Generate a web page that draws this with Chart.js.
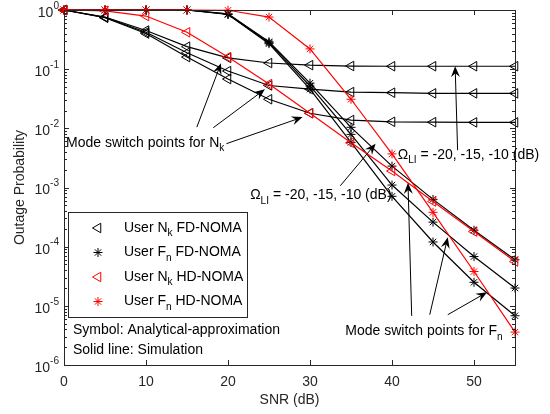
<!DOCTYPE html>
<html>
<head>
<meta charset="utf-8">
<script src="https://cdn.jsdelivr.net/npm/chart.js@4.4.1/dist/chart.umd.min.js"></script>
<style>
  html, body { margin: 0; padding: 0; background: #fff; }
  canvas { display: block; }
</style>
</head>
<body>
<canvas id="chart" width="550" height="414"></canvas>
<script>
// SNR axis (dB)
const snr = [0, 5, 10, 15, 20, 25, 30, 35, 40, 45, 50, 55];

// User N_k, FD-NOMA, Omega_LI = -20, -15, -10 dB
const nkFd20 = [1.0, 0.74, 0.40, 0.16, 0.068, 0.031, 0.018, 0.0138, 0.0129, 0.0127, 0.0126, 0.0126];
const nkFd15 = [1.0, 0.75, 0.42, 0.19, 0.093, 0.053, 0.046, 0.041, 0.040, 0.039, 0.039, 0.039];
const nkFd10 = [1.0, 0.76, 0.45, 0.24, 0.155, 0.127, 0.117, 0.113, 0.112, 0.112, 0.112, 0.112];

// User F_n, FD-NOMA, Omega_LI = -20, -15, -10 dB
const fnFd20 = [1.0, 1.0, 1.0, 1.0, 0.84, 0.27, 0.046, 0.0058, 7.1e-4, 1.2e-4, 2.5e-5, 6.8e-6];
const fnFd15 = [1.0, 1.0, 1.0, 1.0, 0.85, 0.28, 0.052, 0.0079, 1.1e-3, 2.6e-4, 6.8e-5, 2.0e-5];
const fnFd10 = [1.0, 1.0, 1.0, 1.0, 0.86, 0.29, 0.058, 0.0104, 2.3e-3, 6.3e-4, 1.9e-4, 6.0e-5];

// HD-NOMA
const nkHd = [1.0, 0.97, 0.79, 0.42, 0.16, 0.056, 0.018, 0.0057, 0.0019, 5.8e-4, 1.8e-4, 5.6e-5];
const fnHd = [1.0, 1.0, 1.0, 1.0, 0.99, 0.76, 0.22, 0.031, 0.0037, 3.8e-4, 3.8e-5, 3.6e-6];

// axis ticks
const xTicks = [0, 10, 20, 30, 40, 50];
const yExps = [0, -1, -2, -3, -4, -5, -6];

// annotations, in data units (x = SNR, y = log10 of probability)
const arrows = [
  [16.2, -1.98, 19.15, -0.90],
  [18.2, -1.99, 24.5, -1.34],
  [19.8, -2.26, 29.1, -1.81],
  [48.0, -2.37, 47.7, -0.95],
  [33.7, -2.97, 38.0, -2.26],
  [42.4, -5.17, 41.95, -2.92],
  [44.6, -5.15, 46.8, -3.84],
  [46.8, -5.15, 51.6, -4.77]
];
const notes = [
  { x: 0.24, y: -2.25, segs: [{ t: 'Mode switch points for N' }, { t: 'k', sub: true }] },
  { x: 40.7, y: -2.45, segs: [{ t: 'Ω' }, { t: 'LI', sub: true }, { t: ' = -20, -15, -10 (dB)' }] },
  { x: 22.7, y: -3.13, segs: [{ t: 'Ω' }, { t: 'LI', sub: true }, { t: ' = -20, -15, -10 (dB)' }] },
  { x: 34.3, y: -5.43, segs: [{ t: 'Mode switch points for F' }, { t: 'n', sub: true }] }
];

const FONT = '"Liberation Sans", Arial, sans-serif';
const AX = '#262626';
const RED = '#ff0000';

const pts = arr => arr.map((v, i) => ({ x: snr[i], y: v }));
const tri = c => ({ pointStyle: 'triangle', rotation: -90, pointRadius: 5.5, borderColor: c, pointBorderColor: c, pointBackgroundColor: 'rgba(0,0,0,0)' });
const star = c => ({ pointStyle: 'star', rotation: 0, pointRadius: 4.5, borderColor: c, pointBorderColor: c, pointBackgroundColor: c });

function series(label, arr, style) {
  return Object.assign({ label, data: pts(arr), borderWidth: 1.2, pointBorderWidth: 1, pointHoverRadius: 0, clip: false, tension: 0 }, style);
}

function rich(ctx, x, y, segs, size) {
  let cx = x;
  segs.forEach(s => {
    const small = s.sub || s.sup;
    ctx.font = (small ? size * 0.72 : size) + 'px ' + FONT;
    const dy = s.sub ? size * 0.4 : s.sup ? -size * 0.5 : 0;
    ctx.fillText(s.t, cx, y + dy);
    cx += ctx.measureText(s.t).width;
  });
  return cx - x;
}
function richWidth(ctx, segs, size) {
  let w = 0;
  segs.forEach(s => {
    ctx.font = ((s.sub || s.sup) ? size * 0.72 : size) + 'px ' + FONT;
    w += ctx.measureText(s.t).width;
  });
  return w;
}

function arrow(ctx, x1, y1, x2, y2) {
  const a = Math.atan2(y2 - y1, x2 - x1), L = 11, W = 4.5;
  ctx.beginPath();
  ctx.moveTo(x1, y1);
  ctx.lineTo(x2 - Math.cos(a) * L * 0.6, y2 - Math.sin(a) * L * 0.6);
  ctx.stroke();
  ctx.save();
  ctx.translate(x2, y2);
  ctx.rotate(a);
  ctx.beginPath();
  ctx.moveTo(0, 0);
  ctx.lineTo(-L, -W);
  ctx.lineTo(-L * 0.65, 0);
  ctx.lineTo(-L, W);
  ctx.closePath();
  ctx.fill();
  ctx.restore();
}

const decor = {
  id: 'decor',
  afterDraw(chart) {
    const ctx = chart.ctx, a = chart.chartArea;
    const xs = chart.scales.x, ys = chart.scales.y;
    ctx.save();
    ctx.strokeStyle = AX;
    ctx.fillStyle = AX;
    ctx.lineWidth = 1;

    // box
    ctx.strokeRect(Math.round(a.left) + 0.5, Math.round(a.top) + 0.5, Math.round(a.right - a.left), Math.round(a.bottom - a.top));

    // x ticks top and bottom
    ctx.beginPath();
    xTicks.forEach(v => {
      const px = Math.round(xs.getPixelForValue(v)) + 0.5;
      ctx.moveTo(px, a.bottom); ctx.lineTo(px, a.bottom - 5);
      ctx.moveTo(px, a.top); ctx.lineTo(px, a.top + 5);
    });
    // y ticks, major and minor, left and right
    yExps.forEach(e => {
      const py = Math.round(ys.getPixelForValue(Math.pow(10, e))) + 0.5;
      ctx.moveTo(a.left, py); ctx.lineTo(a.left + 5, py);
      ctx.moveTo(a.right, py); ctx.lineTo(a.right - 5, py);
      if (e < 0) {
        for (let k = 2; k <= 9; k++) {
          const pm = Math.round(ys.getPixelForValue(k * Math.pow(10, e))) + 0.5;
          ctx.moveTo(a.left, pm); ctx.lineTo(a.left + 3, pm);
          ctx.moveTo(a.right, pm); ctx.lineTo(a.right - 3, pm);
        }
      }
    });
    ctx.stroke();

    // tick labels
    ctx.textBaseline = 'middle';
    ctx.textAlign = 'center';
    ctx.font = '14px ' + FONT;
    xTicks.forEach(v => ctx.fillText(String(v), xs.getPixelForValue(v), a.bottom + 17));
    ctx.textAlign = 'left';
    yExps.forEach(e => {
      const segs = [{ t: '10' }, { t: String(e), sup: true }];
      const w = richWidth(ctx, segs, 14);
      rich(ctx, a.left - 5 - w, ys.getPixelForValue(Math.pow(10, e)) + 3, segs, 14);
    });

    // axis titles
    ctx.font = '14px ' + FONT;
    ctx.textAlign = 'center';
    ctx.fillText('SNR (dB)', (a.left + a.right) / 2, a.bottom + 35);
    ctx.save();
    ctx.translate(20, (a.top + a.bottom) / 2);
    ctx.rotate(-Math.PI / 2);
    ctx.fillText('Outage Probability', 0, 0);
    ctx.restore();

    // annotations
    ctx.strokeStyle = '#000';
    ctx.fillStyle = '#000';
    ctx.lineWidth = 1;
    arrows.forEach(r => arrow(ctx,
      xs.getPixelForValue(r[0]), ys.getPixelForValue(Math.pow(10, r[1])),
      xs.getPixelForValue(r[2]), ys.getPixelForValue(Math.pow(10, r[3]))));
    ctx.textAlign = 'left';
    notes.forEach(n => rich(ctx, xs.getPixelForValue(n.x), ys.getPixelForValue(Math.pow(10, n.y)), n.segs, 14));

    // legend box
    const lx = a.left + 4, ly = a.top + 202, lw = 179, lh = 105;
    ctx.fillStyle = '#fff';
    ctx.fillRect(lx, ly, lw, lh);
    ctx.strokeStyle = AX;
    ctx.strokeRect(lx + 0.5, ly + 0.5, lw, lh);
    const rows = [
      { c: '#000', style: 'triangle', rot: -90, r: 5.5, segs: [{ t: 'User N' }, { t: 'k', sub: true }, { t: ' FD-NOMA' }] },
      { c: '#000', style: 'star', rot: 0, r: 4.5, segs: [{ t: 'User F' }, { t: 'n', sub: true }, { t: ' FD-NOMA' }] },
      { c: RED, style: 'triangle', rot: -90, r: 5.5, segs: [{ t: 'User N' }, { t: 'k', sub: true }, { t: ' HD-NOMA' }] },
      { c: RED, style: 'star', rot: 0, r: 4.5, segs: [{ t: 'User F' }, { t: 'n', sub: true }, { t: ' HD-NOMA' }] }
    ];
    rows.forEach((row, i) => {
      const cy = ly + 16 + i * 24.5;
      ctx.strokeStyle = row.c;
      ctx.fillStyle = row.style === 'triangle' ? 'rgba(0,0,0,0)' : row.c;
      ctx.lineWidth = 1;
      Chart.helpers.drawPoint(ctx, { pointStyle: row.style, rotation: row.rot, radius: row.r, borderWidth: 1 }, lx + 30, cy);
      ctx.fillStyle = '#000';
      rich(ctx, lx + 56, cy, row.segs, 14);
    });
    ctx.fillStyle = '#000';
    ctx.font = '14px ' + FONT;
    ctx.fillText('Symbol: Analytical-approximation', a.left + 9, a.top + 320);
    ctx.fillText('Solid line: Simulation', a.left + 9, a.top + 340);
    ctx.restore();
  }
};

new Chart(document.getElementById('chart'), {
  type: 'line',
  data: {
    datasets: [
      series('User Fn HD-NOMA', fnHd, star(RED)),
      series('User Nk HD-NOMA', nkHd, tri(RED)),
      series('User Fn FD-NOMA -20', fnFd20, star('#000')),
      series('User Fn FD-NOMA -15', fnFd15, star('#000')),
      series('User Fn FD-NOMA -10', fnFd10, star('#000')),
      series('User Nk FD-NOMA -20', nkFd20, tri('#000')),
      series('User Nk FD-NOMA -15', nkFd15, tri('#000')),
      series('User Nk FD-NOMA -10', nkFd10, tri('#000'))
    ]
  },
  options: {
    responsive: false,
    animation: false,
    devicePixelRatio: 1,
    layout: { padding: { left: 64, right: 35, top: 10, bottom: 49 } },
    plugins: { legend: { display: false }, tooltip: { enabled: false } },
    scales: {
      x: { type: 'linear', min: 0, max: 55, display: false },
      y: { type: 'logarithmic', min: 1e-6, max: 1, display: false }
    }
  },
  plugins: [decor]
});
</script>
</body>
</html>
